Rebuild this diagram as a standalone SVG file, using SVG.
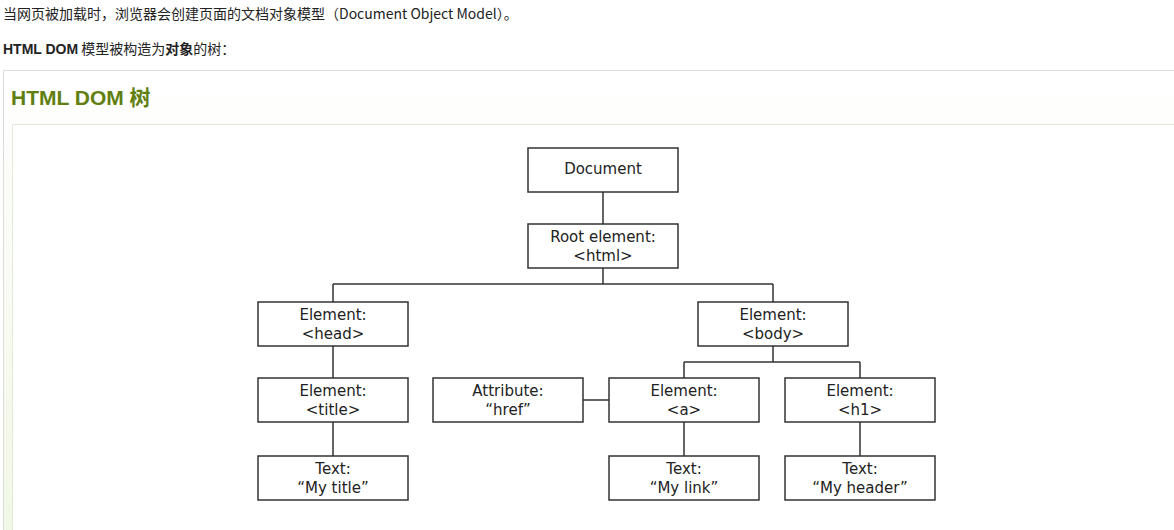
<svg xmlns="http://www.w3.org/2000/svg" width="1174" height="530" viewBox="0 0 1174 530">
<defs>
<linearGradient id="g" x1="0" y1="0" x2="0" y2="1"><stop offset="0" stop-color="#ffffff"/><stop offset="1" stop-color="#f1f7e6"/></linearGradient>
<style>
.t{font-family:"Noto Sans CJK SC","Liberation Sans",sans-serif;font-size:14px;fill:#222}
.n rect{fill:#fff;stroke:#333;stroke-width:1.5}
.n text{font-family:"DejaVu Sans",Verdana,sans-serif;font-size:15px;fill:#222;text-anchor:middle}
.c{stroke:#333;stroke-width:1.5;fill:none}
</style>
</defs>
<rect width="1174" height="530" fill="#fff"/>
<text class="t" x="3" y="19">当网页被加载时，浏览器会创建页面的文档对象模型（Document Object Model）。</text>
<text class="t" x="3" y="54"><tspan font-weight="bold" font-family="Liberation Sans,sans-serif">HTML DOM</tspan> 模型被构造为<tspan font-weight="bold">对象</tspan>的树：</text>
<rect x="3.5" y="70.5" width="1175" height="465" fill="url(#g)" stroke="#dcdcdc"/>
<text x="11" y="105" font-family="Liberation Sans,Noto Sans CJK SC,sans-serif" font-size="21" font-weight="bold" fill="#617f10">HTML DOM 树</text>
<rect x="12.5" y="124.5" width="1170" height="410" fill="#fff" stroke="#e4ead8"/>
<g id="connectors" class="c">
<path d="M603 192V224M603 268V284M333 284H773M333 284V302M773 284V302M333 346V378M333 422V456M773 346V362M684 362H860M684 362V378M860 362V378M583 400H609M684 422V456M860 422V456"/>
</g>
<g id="document" class="n"><rect x="528" y="148" width="150" height="44"/><text x="603" y="174">Document</text></g>
<g id="root" class="n"><rect x="528" y="224" width="150" height="44"/><text x="603" y="242">Root element:</text><text x="603" y="261">&lt;html&gt;</text></g>
<g id="head" class="n"><rect x="258" y="302" width="150" height="44"/><text x="333" y="320">Element:</text><text x="333" y="339">&lt;head&gt;</text></g>
<g id="body" class="n"><rect x="698" y="302" width="150" height="44"/><text x="773" y="320">Element:</text><text x="773" y="339">&lt;body&gt;</text></g>
<g id="title" class="n"><rect x="258" y="378" width="150" height="44"/><text x="333" y="396">Element:</text><text x="333" y="415">&lt;title&gt;</text></g>
<g id="mytitle" class="n"><rect x="258" y="456" width="150" height="44"/><text x="333" y="474">Text:</text><text x="333" y="493">“My title”</text></g>
<g id="attr" class="n"><rect x="433" y="378" width="150" height="44"/><text x="508" y="396">Attribute:</text><text x="508" y="415">“href”</text></g>
<g id="a" class="n"><rect x="609" y="378" width="150" height="44"/><text x="684" y="396">Element:</text><text x="684" y="415">&lt;a&gt;</text></g>
<g id="h1" class="n"><rect x="785" y="378" width="150" height="44"/><text x="860" y="396">Element:</text><text x="860" y="415">&lt;h1&gt;</text></g>
<g id="mylink" class="n"><rect x="609" y="456" width="150" height="44"/><text x="684" y="474">Text:</text><text x="684" y="493">“My link”</text></g>
<g id="myheader" class="n"><rect x="785" y="456" width="150" height="44"/><text x="860" y="474">Text:</text><text x="860" y="493">“My header”</text></g>
</svg>
